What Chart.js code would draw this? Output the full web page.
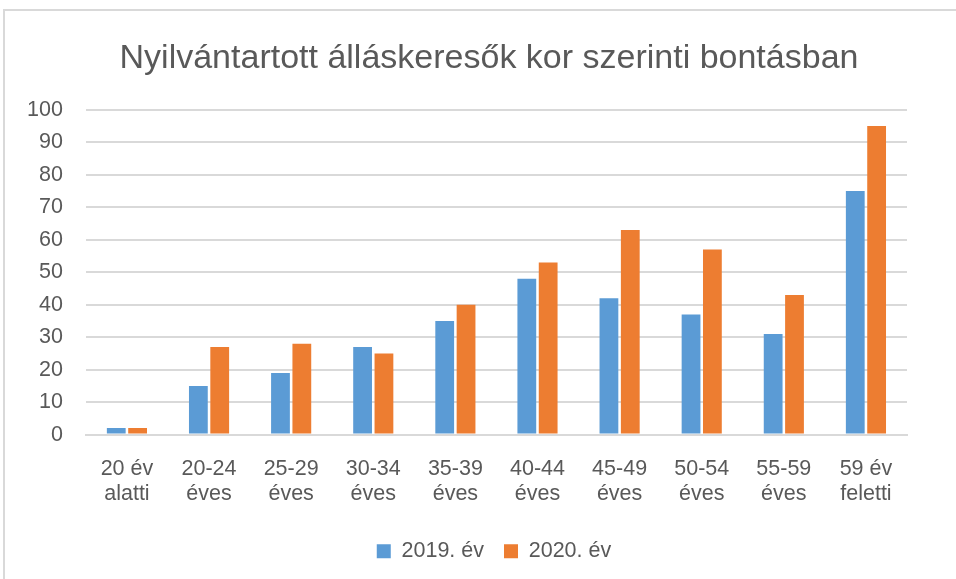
<!DOCTYPE html>
<html>
<head>
<meta charset="utf-8">
<script src="https://cdn.jsdelivr.net/npm/chart.js@4.4.1/dist/chart.umd.min.js"></script>
<style>
  html, body { margin: 0; padding: 0; background: #fff; overflow: hidden; }
  #frame {
    position: absolute; left: 3px; top: 9px;
    width: 970px; height: 600px;
    border: 2px solid #d9d9d9;
  }
  #wrap { position: absolute; left: 0; top: 0; width: 956px; height: 579px; }
</style>
</head>
<body>
<div id="frame"></div>
<div id="wrap"><canvas id="chart"></canvas></div>
<script>
// Age groups (two-line labels as in the original)
const ageGroups = [
  ['20 év', 'alatti'], ['20-24', 'éves'], ['25-29', 'éves'], ['30-34', 'éves'],
  ['35-39', 'éves'], ['40-44', 'éves'], ['45-49', 'éves'], ['50-54', 'éves'],
  ['55-59', 'éves'], ['59 év', 'feletti']
];
const values2019 = [2, 15, 19, 27, 35, 48, 42, 37, 31, 75];
const values2020 = [2, 27, 28, 25, 40, 53, 63, 57, 43, 95];
const seriesNames = ['2019. év', '2020. év'];

const textColor = '#595959';
const fontFamily = "'Liberation Sans', Arial, sans-serif";

// Title and legend are centred on the whole frame in the original,
// not on the (right-shifted) layout box, so widen their boxes a bit.
const centerOnFrame = {
  id: 'centerOnFrame',
  beforeDraw(chart) {
    if (chart.titleBlock) { chart.titleBlock.left = 4; chart.titleBlock.right = 974; }
    if (chart.legend) { chart.legend.left = 4; chart.legend.right = 984; }
  }
};

const ctx = document.getElementById('chart').getContext('2d');
new Chart(ctx, {
  type: 'bar',
  data: {
    labels: ageGroups,
    datasets: [
      { label: seriesNames[0], data: values2019, backgroundColor: '#5b9bd5' },
      { label: seriesNames[1], data: values2020, backgroundColor: '#ed7d31' }
    ]
  },
  options: {
    responsive: true,
    maintainAspectRatio: false,
    animation: false,
    categoryPercentage: 0.52,
    barPercentage: 0.88,
    layout: { padding: { left: 4, right: 49, top: 10, bottom: 7 } },
    plugins: {
      title: {
        display: true,
        text: 'Nyilvántartott álláskeresők kor szerinti bontásban',
        color: textColor,
        font: { family: fontFamily, size: 34, weight: 'normal', lineHeight: 1.2 },
        padding: { top: 28, bottom: 31 }
      },
      legend: {
        position: 'bottom',
        labels: {
          color: textColor,
          boxWidth: 14,
          boxHeight: 14,
          padding: 20,
          font: { family: fontFamily, size: 21.5 }
        }
      },
      tooltip: { enabled: false }
    },
    scales: {
      x: {
        grid: { display: false },
        border: { color: '#d9d9d9', width: 2 },
        ticks: {
          color: textColor,
          font: { family: fontFamily, size: 21.5, lineHeight: 1.16 },
          maxRotation: 0,
          padding: 14
        }
      },
      y: {
        min: 0,
        max: 100,
        ticks: {
          stepSize: 10,
          color: textColor,
          font: { family: fontFamily, size: 21.5 },
          padding: 23
        },
        grid: { color: '#d9d9d9', lineWidth: 2, drawTicks: false },
        border: { display: false }
      }
    }
  },
  plugins: [centerOnFrame]
});
</script>
</body>
</html>
